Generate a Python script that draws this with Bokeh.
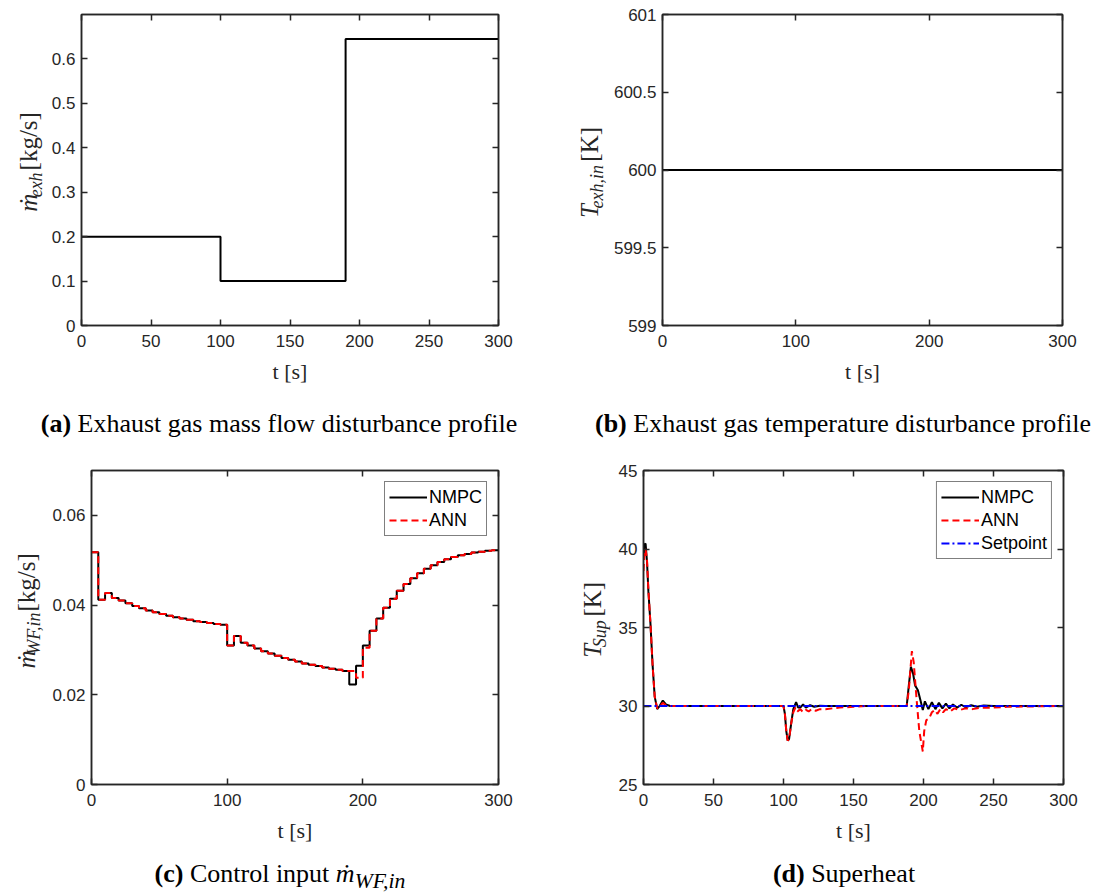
import math
from bokeh.plotting import figure
from bokeh.models import (LinearAxis, FixedTicker, CustomJSTickFormatter, Range1d, Div)
from bokeh.core.properties import value
from bokeh.layouts import column, row
from bokeh.embed import file_html
from bokeh.resources import INLINE

# ---------------- data ----------------
# (a) exhaust gas mass flow disturbance
t_exh = [0, 100, 190, 300]
m_exh = [0.2, 0.1, 0.645, 0.645]

# (b) exhaust gas temperature disturbance
t_Texh = [0, 300]
T_exh = [600, 600]

# (c) control input (zero-order hold, 5 s samples)
t_ctrl = [0, 5, 10, 15, 20, 25, 30, 35, 40, 45, 50, 55, 60, 65, 70, 75, 80, 85, 90, 95,
          100, 105, 110, 115, 120, 125, 130, 135, 140, 145, 150, 155, 160, 165, 170, 175,
          180, 185, 190, 195, 200, 205, 210, 215, 220, 225, 230, 235, 240, 245, 250, 255,
          260, 265, 270, 275, 280, 285, 290, 295, 300]
m_wf_nmpc = [0.0518, 0.0412, 0.0427, 0.0416, 0.0410, 0.0404, 0.0398, 0.0393, 0.0388, 0.0384,
             0.0380, 0.0376, 0.0373, 0.0370, 0.0367, 0.0364, 0.0362, 0.0360, 0.0358, 0.0356,
             0.0310, 0.0331, 0.0316, 0.0310, 0.0303, 0.0297, 0.0292, 0.0287, 0.0282, 0.0278,
             0.0274, 0.0270, 0.0267, 0.0264, 0.0261, 0.0258, 0.0256, 0.0253, 0.0223, 0.0265,
             0.0310, 0.0343, 0.0370, 0.0394, 0.0414, 0.0432, 0.0447, 0.0460, 0.0471, 0.0481,
             0.0489, 0.0496, 0.0502, 0.0507, 0.0511, 0.0514, 0.0517, 0.0519, 0.0521, 0.0522,
             0.0522]
m_wf_ann = [0.0518, 0.0412, 0.0427, 0.0416, 0.0410, 0.0404, 0.0398, 0.0393, 0.0388, 0.0384,
            0.0380, 0.0376, 0.0373, 0.0370, 0.0367, 0.0364, 0.0362, 0.0360, 0.0358, 0.0356,
            0.0310, 0.0331, 0.0316, 0.0310, 0.0303, 0.0297, 0.0292, 0.0287, 0.0282, 0.0278,
            0.0274, 0.0270, 0.0267, 0.0264, 0.0261, 0.0258, 0.0256, 0.0253, 0.0253, 0.0238,
            0.0305, 0.0343, 0.0370, 0.0394, 0.0414, 0.0432, 0.0447, 0.0460, 0.0471, 0.0481,
            0.0489, 0.0496, 0.0502, 0.0507, 0.0511, 0.0514, 0.0517, 0.0519, 0.0521, 0.0522,
            0.0522]

# (d) superheat
t_sup_nmpc = [0, 0.8, 1.5, 2.5, 3.5, 5, 6.5, 8, 9.8, 11.5, 13.8, 16, 19,
              100, 101, 102, 103, 104, 105.5, 107, 109, 110.5, 112, 114, 116, 119, 122, 126, 130,
              188, 189.5, 191, 192.5, 194, 196, 198, 199.5, 201, 203.5, 206, 208.5, 211, 213.5,
              216, 218.5, 221, 224, 227, 230, 234, 238, 243, 250, 300]
T_sup_nmpc = [39.6, 40.3, 40.35, 39.2, 37.3, 35.2, 32.6, 30.6, 29.8, 30.0, 30.35, 30.1, 30.0,
              30.0, 29.5, 28.4, 27.8, 27.9, 28.9, 29.8, 30.25, 29.9, 29.9, 30.1, 29.9, 30.05, 29.95, 30.02, 30.0,
              30.0, 31.3, 32.5, 32.1, 31.3, 31.0, 30.3, 29.75, 30.3, 29.8, 30.25, 29.8, 30.2, 29.85,
              30.15, 29.85, 30.1, 29.9, 30.08, 29.92, 30.05, 29.95, 30.03, 30.0, 30.0]
t_sup_ann = [0, 0.8, 1.5, 2.5, 3.5, 5, 6.5, 8, 9.8, 11.5, 13.8, 16, 19,
             100, 101, 102, 103, 104, 105.5, 107, 108.5, 110, 112, 114, 116, 118, 120, 123, 126,
             130, 135, 140, 150, 160, 188, 189.5, 191.7, 193, 195, 197, 199.5, 200.5, 202, 204,
             206, 208, 210, 212, 214, 216, 219, 222, 226, 230, 235, 240, 250, 260, 300]
T_sup_ann = [38.6, 39.8, 40.0, 39.3, 37.4, 35.2, 32.6, 30.6, 29.85, 29.95, 30.2, 30.05, 30.0,
             30.0, 29.5, 28.4, 27.8, 27.9, 28.9, 29.6, 29.9, 29.65, 29.8, 29.6, 29.75, 29.65, 29.8, 29.7, 29.8,
             29.8, 29.85, 29.9, 29.95, 30.0, 30.0, 31.0, 33.5, 32.8, 30.5, 28.4, 27.1, 28.4, 29.1, 29.2,
             29.6, 29.75, 29.5, 29.8, 29.6, 29.8, 29.65, 29.85, 29.75, 29.85, 29.8, 29.88, 29.9, 29.95, 30.0]
t_set = [0, 300]
T_set = [30, 30]

# tick values
xt_a = [0, 50, 100, 150, 200, 250, 300]
yt_a = [0, 0.1, 0.2, 0.3, 0.4, 0.5, 0.6]
xt_b = [0, 100, 200, 300]
yt_b = [599, 599.5, 600, 600.5, 601]
xt_c = [0, 100, 200, 300]
yt_c = [0, 0.02, 0.04, 0.06]
xt_d = [0, 50, 100, 150, 200, 250, 300]
yt_d = [25, 30, 35, 40, 45]

# ---------------- styling helpers ----------------
AX = "#262626"
FMT = CustomJSTickFormatter(code="return Number(tick.toFixed(4)).toString();")


def make_fig(w, h, bl, br, bt, bb, xr, yr, xt, yt):
    p = figure(width=w, height=h, x_range=Range1d(*xr), y_range=Range1d(*yr),
               output_backend="svg", toolbar_location=None,
               min_border_left=bl, min_border_right=br, min_border_top=bt, min_border_bottom=bb)
    p.grid.visible = False
    p.outline_line_color = AX
    p.outline_line_width = 1.5
    p.xaxis.ticker = FixedTicker(ticks=xt)
    p.yaxis.ticker = FixedTicker(ticks=yt)
    for ax in [p.xaxis[0], p.yaxis[0]]:
        ax.formatter = FMT
        ax.major_tick_in = 6
        ax.major_tick_out = 0
        ax.minor_tick_line_color = None
        ax.axis_line_color = AX
        ax.axis_line_width = 1.5
        ax.major_tick_line_color = AX
        ax.major_tick_line_width = 1.5
        ax.major_label_text_font = "Liberation Sans"
        ax.major_label_text_font_size = "17px"
        ax.major_label_text_color = AX
    p.xaxis.major_label_standoff = 9
    p.yaxis.major_label_standoff = 6
    p.xaxis.axis_label = "t [s]"
    p.xaxis.axis_label_text_font = "Liberation Serif"
    p.xaxis.axis_label_text_font_style = "normal"
    p.xaxis.axis_label_text_font_size = "22px"
    p.xaxis.axis_label_text_color = AX
    p.xaxis.axis_label_standoff = 9
    for side, tk in (("above", xt), ("right", yt)):
        a = LinearAxis(ticker=FixedTicker(ticks=tk), major_label_text_color=None,
                       major_label_text_font_size="1px",
                       major_label_standoff=0, major_tick_in=6, major_tick_out=0,
                       minor_tick_line_color=None, axis_line_color=AX, axis_line_width=1.5,
                       major_tick_line_color=AX, major_tick_line_width=1.5)
        p.add_layout(a, side)
    return p


EM = {"ṁ": .722, "T": .556, "e": .444, "x": .444, "h": .5, ",": .25, "i": .278, "n": .5,
      "W": .833, "F": .611, "S": .5, "u": .5, "p": .5, "[": .333, "]": .333, "k": .5,
      "g": .5, "/": .278, "s": .389, "K": .722}


def label_fig(W, H, main, sub, unit, cx, cy):
    """A narrow strip holding a rotated y-axis label (1 data unit = 1 px)."""
    f = figure(width=W, height=H, x_range=Range1d(0, W), y_range=Range1d(0, H),
               x_axis_type=None, y_axis_type=None, output_backend="svg",
               toolbar_location=None, min_border=0, outline_line_color=None)
    fs, ss = 25, 18
    w_main = sum(EM[c] for c in main) * fs
    w_sub = sum(EM[c] for c in sub) * ss * 1.1
    gap = 0.5 * fs
    w_unit = sum(EM[c] for c in unit) * fs
    total = w_main + w_sub + gap + w_unit
    y0 = cy - total / 2
    common = dict(angle=math.pi / 2, text_align="center", text_baseline="middle",
                  text_font=value("Liberation Serif"), text_color=AX)
    f.text(x=[cx], y=[y0 + w_main / 2], text=[main], text_font_size=f"{fs}px",
           text_font_style="italic", **common)
    f.text(x=[cx + 7], y=[y0 + w_main + w_sub / 2], text=[sub], text_font_size=f"{ss}px",
           text_font_style="italic", **common)
    f.text(x=[cx], y=[y0 + w_main + w_sub + gap + w_unit / 2], text=[unit],
           text_font_size=f"{fs}px", text_font_style="normal", **common)
    return f


def style_legend(p):
    lg = p.legend[0]
    lg.location = "top_right"
    lg.margin = 11
    lg.border_line_color = "black"
    lg.border_line_width = 1.5
    lg.background_fill_color = "white"
    lg.background_fill_alpha = 1
    lg.label_text_font = "Liberation Sans"
    lg.label_text_font_size = "18px"
    lg.label_text_color = "black"
    lg.glyph_width = 38
    lg.glyph_height = 22
    lg.label_height = 22
    lg.spacing = 1
    lg.padding = 4
    lg.label_standoff = 2


# ---------------- (a) ----------------
la = label_fig(48, 395, "ṁ", "exh", "[kg/s]", 28, 205)
pa = make_fig(492, 395, 31, 42, 14, 70, (0, 300), (0, 0.7), xt_a, yt_a)
pa.step(t_exh, m_exh, mode="after", line_color="black", line_width=2)

# ---------------- (b) ----------------
lb = label_fig(70, 395, "T", "exh,in", "[K]", 49, 193)
pb = make_fig(483, 395, 52, 31, 14, 70, (0, 300), (599, 601), xt_b, yt_b)
pb.line(t_Texh, T_exh, line_color="black", line_width=2)

# ---------------- (c) ----------------
lc = label_fig(48, 405, "ṁ", "WF,in", "[kg/s]", 26, 221)
pc = make_fig(492, 405, 43, 42, 25, 66, (0, 300), (0, 0.07), xt_c, yt_c)
pc.step(t_ctrl, m_wf_nmpc, mode="after", line_color="black", line_width=2, legend_label="NMPC")
pc.step(t_ctrl, m_wf_ann, mode="after", line_color="#FF0000", line_width=2,
        line_dash="7 4", legend_label="ANN")
style_legend(pc)

# ---------------- (d) ----------------
ld = label_fig(74, 405, "T", "Sup", "[K]", 52, 211)
pd_ = make_fig(479, 405, 29, 30, 25, 66, (0, 300), (25, 45), xt_d, yt_d)
pd_.line(t_sup_nmpc, T_sup_nmpc, line_color="black", line_width=2, legend_label="NMPC")
pd_.line(t_sup_ann, T_sup_ann, line_color="#FF0000", line_width=2, line_dash="7 4",
         legend_label="ANN")
pd_.line(t_set, T_set, line_color="#0000FF", line_width=2, line_dash="8 3 2 3",
         legend_label="Setpoint")
style_legend(pd_)

# ---------------- captions ----------------
CAP_STYLE = "font-family:'Liberation Serif'; font-size:26px; color:#000; white-space:nowrap;"


def caption_row(h, left_html, right_html, lcx, rcx, top):
    html = (f'<div style="position:relative; width:1093px; height:{h}px; {CAP_STYLE}">'
            f'<div style="position:absolute; top:{top}px; left:{lcx - 260}px; width:520px; text-align:center;">{left_html}</div>'
            f'<div style="position:absolute; top:{top}px; left:{rcx - 260}px; width:520px; text-align:center;">{right_html}</div>'
            '</div>')
    return Div(text=html, width=1093, height=h, margin=0)


cap1 = caption_row(50, "<b>(a)</b> Exhaust gas mass flow disturbance profile",
                   "<b>(b)</b> Exhaust gas temperature disturbance profile", 279, 843, 10)
cap2 = caption_row(44, "<b>(c)</b> Control input <i>ṁ</i><sub><i>WF,in</i></sub>",
                   "<b>(d)</b> Superheat", 280, 844, 5)

layout = column(row(la, pa, lb, pb), cap1, row(lc, pc, ld, pd_), cap2)
open("out.html", "w").write(file_html(layout, INLINE))
